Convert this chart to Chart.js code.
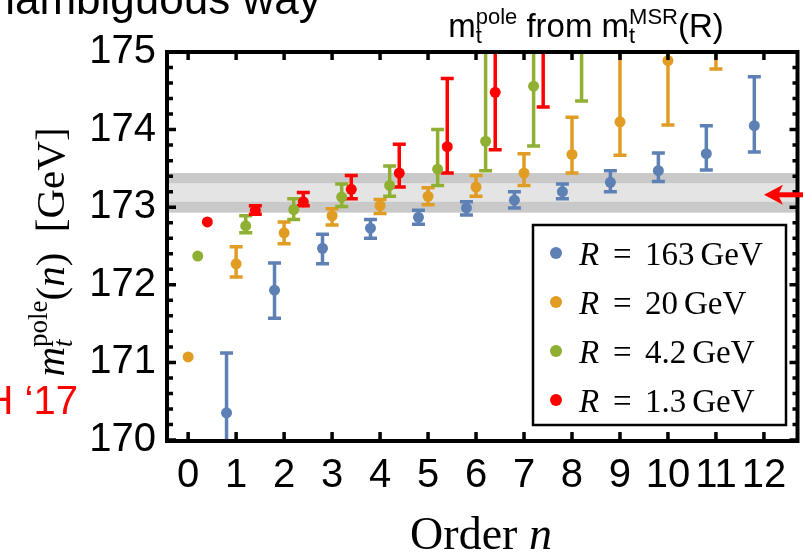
<!DOCTYPE html>
<html>
<head>
<meta charset="utf-8">
<script src="https://cdn.jsdelivr.net/npm/chart.js@4.4.1/dist/chart.umd.min.js"></script>
<style>
  html, body { margin: 0; padding: 0; background: #fff; }
</style>
</head>
<body>
<canvas id="chart" width="803" height="554"></canvas>
<script>
// perturbative order n
const orders = [0, 1, 2, 3, 4, 5, 6, 7, 8, 9, 10, 11, 12];
const yTicks = [170, 171, 172, 173, 174, 175];
const rLabels = ["163", "20", "4.2", "1.3"];

// R = 163 GeV
const mt163 = [null, 170.35, 171.93, 172.47, 172.73, 172.87, 172.99, 173.09, 173.20, 173.32, 173.47, 173.69, 174.05];
const lo163 = [null, 169.60, 171.57, 172.27, 172.60, 172.78, 172.90, 172.99, 173.11, 173.20, 173.33, 173.48, 173.71];
const hi163 = [null, 171.12, 172.28, 172.65, 172.84, 172.96, 173.07, 173.20, 173.30, 173.47, 173.70, 174.05, 174.68];

// R = 20 GeV
const mt20 = [171.07, 172.27, 172.67, 172.89, 173.02, 173.14, 173.26, 173.44, 173.68, 174.10, 174.89, 175.60, null];
const lo20 = [null, 172.10, 172.53, 172.77, 172.92, 173.03, 173.14, 173.28, 173.44, 173.67, 174.06, 174.78, null];
const hi20 = [null, 172.49, 172.81, 172.98, 173.10, 173.25, 173.41, 173.69, 174.16, 175.20, 175.80, 176.50, null];

// R = 4.2 GeV
const mt42 = [172.37, 172.76, 172.97, 173.13, 173.28, 173.49, 173.85, 174.56, 175.50, null, null, null, null];
const lo42 = [null, 172.67, 172.84, 173.01, 173.14, 173.28, 173.47, 173.79, 174.37, null, null, null, null];
const hi42 = [null, 172.89, 173.11, 173.30, 173.53, 174.00, 175.30, 175.80, 176.80, null, null, null, null];

// R = 1.3 GeV
const mt13 = [172.81, 172.96, 173.07, 173.23, 173.44, 173.78, 174.48, 175.40, null, null, null, null, null];
const lo13 = [null, 172.91, 173.02, 173.11, 173.26, 173.44, 173.74, 174.29, null, null, null, null, null];
const hi13 = [null, 173.02, 173.19, 173.41, 173.81, 174.66, 175.50, 176.80, null, null, null, null, null];

// reference band and arrow
const bandOuter = [172.93, 173.44];
const bandInner = [173.07, 173.31];
const arrowValue = 173.16;

const colors = ["#5e81b5", "#e19c24", "#8fb032", "#ff0000"];
const shifts = [-0.2, 0, 0.2, 0.4];

function points(vals, lo, hi, shift) {
  const out = [];
  orders.forEach((n, i) => {
    if (vals[i] == null) return;
    out.push({ x: n + shift, y: vals[i], lo: lo[i], hi: hi[i] });
  });
  return out;
}

const series = [
  [mt163, lo163, hi163],
  [mt20, lo20, hi20],
  [mt42, lo42, hi42],
  [mt13, lo13, hi13]
];

const datasets = series.map((s, i) => ({
  label: "R = " + rLabels[i] + " GeV",
  data: points(s[0], s[1], s[2], shifts[i]),
  backgroundColor: colors[i],
  borderColor: colors[i],
  borderWidth: 0,
  pointRadius: 5.5
}));

const SANS = "'Liberation Sans', Arial, sans-serif";
const SERIF = "'Liberation Serif', 'Times New Roman', serif";

// pieces: [text, font, dy, noAdvance]
function runWidth(ctx, parts) {
  let w = 0;
  parts.forEach(p => { ctx.font = p[1]; if (!p[3]) w += ctx.measureText(p[0]).width; });
  return w;
}
function drawRun(ctx, parts, x, y) {
  let cx = x;
  parts.forEach(p => {
    ctx.font = p[1];
    ctx.fillText(p[0], cx, y + (p[2] || 0));
    if (!p[3]) cx += ctx.measureText(p[0]).width;
  });
}

const decor = {
  id: "decor",
  beforeDatasetsDraw(chart) {
    const { ctx, chartArea: a, scales: { x, y } } = chart;
    ctx.save();
    ctx.beginPath();
    ctx.rect(a.left, a.top, a.right - a.left, a.bottom - a.top);
    ctx.clip();
    // grey band
    const o1 = y.getPixelForValue(bandOuter[1]), o0 = y.getPixelForValue(bandOuter[0]);
    const i1 = y.getPixelForValue(bandInner[1]), i0 = y.getPixelForValue(bandInner[0]);
    ctx.fillStyle = "#c9c9c9";
    ctx.fillRect(a.left, o1, a.right - a.left, o0 - o1);
    ctx.fillStyle = "#e4e4e4";
    ctx.fillRect(a.left, i1, a.right - a.left, i0 - i1);
    // error bars
    chart.data.datasets.forEach(ds => {
      ctx.strokeStyle = ds.backgroundColor;
      ctx.lineWidth = 3.5;
      ds.data.forEach(p => {
        if (p.lo == null) return;
        const px = x.getPixelForValue(p.x);
        const t = y.getPixelForValue(p.hi), b = y.getPixelForValue(p.lo);
        ctx.beginPath();
        ctx.moveTo(px, t); ctx.lineTo(px, b);
        ctx.moveTo(px - 6.5, t); ctx.lineTo(px + 6.5, t);
        ctx.moveTo(px - 6.5, b); ctx.lineTo(px + 6.5, b);
        ctx.stroke();
      });
    });
    ctx.restore();
  },
  afterDraw(chart) {
    const { ctx, chartArea: a, scales: { x, y } } = chart;
    ctx.save();

    // frame
    ctx.strokeStyle = "#000";
    ctx.lineWidth = 4;
    ctx.strokeRect(a.left - 1, a.top, a.right - a.left + 1, a.bottom - a.top + 1);

    // ticks
    ctx.lineWidth = 3.5;
    ctx.beginPath();
    orders.forEach(n => {
      const px = x.getPixelForValue(n);
      ctx.moveTo(px, a.bottom); ctx.lineTo(px, a.bottom - 8);
      ctx.moveTo(px, a.top); ctx.lineTo(px, a.top + 8);
    });
    for (let k = 0; k <= 25; k++) {
      const v = 170 + k * 0.2;
      const py = y.getPixelForValue(v);
      const len = (k % 5 === 0) ? 8 : 5;
      ctx.moveTo(a.left, py); ctx.lineTo(a.left + len, py);
      ctx.moveTo(a.right, py); ctx.lineTo(a.right - len, py);
    }
    ctx.stroke();

    // legend
    const lx = 533, ly = 225, lw = 253, lh = 200;
    ctx.fillStyle = "#fff";
    ctx.fillRect(lx, ly, lw, lh);
    ctx.lineWidth = 2.5;
    ctx.strokeRect(lx, ly, lw, lh);
    chart.data.datasets.forEach((ds, i) => {
      const cy = 253 + i * 49;
      ctx.fillStyle = ds.backgroundColor;
      ctx.beginPath();
      ctx.arc(556, cy, 6, 0, Math.PI * 2);
      ctx.fill();
      ctx.fillStyle = "#000";
      ctx.textBaseline = "alphabetic";
      ctx.textAlign = "left";
      ctx.font = "italic 33px " + SERIF;
      ctx.fillText("R", 579, cy + 12);
      ctx.font = "33px " + SERIF;
      ctx.fillText("=", 613, cy + 12);
      ctx.fillText(rLabels[i], 645, cy + 12);
      const w = ctx.measureText(rLabels[i]).width;
      ctx.fillText("GeV", 645 + w + 6, cy + 12);
    });

    // red arrow
    const ay = y.getPixelForValue(arrowValue);
    ctx.strokeStyle = "#ff0000";
    ctx.fillStyle = "#ff0000";
    ctx.lineWidth = 5;
    ctx.beginPath();
    ctx.moveTo(803, ay); ctx.lineTo(776, ay);
    ctx.stroke();
    ctx.beginPath();
    ctx.moveTo(764, ay);
    ctx.lineTo(783, ay - 10);
    ctx.lineTo(778, ay);
    ctx.lineTo(783, ay + 10);
    ctx.closePath();
    ctx.fill();

    // top title
    ctx.fillStyle = "#000";
    ctx.textAlign = "left";
    ctx.textBaseline = "alphabetic";
    const big = "33px " + SANS, small = "22px " + SANS;
    const tParts = [
      ["m", big, 0], ["t", small, 6, true], ["pole", small, -13],
      [" from ", big, 0],
      ["m", big, 0], ["t", small, 6, true], ["MSR", small, -13],
      ["(R)", big, 0]
    ];
    const tw = runWidth(ctx, tParts);
    drawRun(ctx, tParts, 586 - tw / 2, 37);

    // y-axis title (rotated)
    ctx.save();
    ctx.translate(64, 252);
    ctx.rotate(-Math.PI / 2);
    const yParts = [
      ["m", "italic 41px " + SERIF, 0], ["t", "italic 27px " + SERIF, 8, true],
      ["pole", "27px " + SERIF, -17],
      ["(", "41px " + SERIF, 0], ["n", "italic 41px " + SERIF, 0], [")", "41px " + SERIF, 0],
      ["  [GeV]", "41px " + SERIF, 0]
    ];
    const yw = runWidth(ctx, yParts);
    drawRun(ctx, yParts, -yw / 2, 0);
    ctx.restore();

    // x-axis title
    const xParts = [["Order ", "46px " + SERIF, 0], ["n", "italic 46px " + SERIF, 0]];
    const xw = runWidth(ctx, xParts);
    drawRun(ctx, xParts, 481 - xw / 2, 549);

    // slide remnants
    ctx.font = "44px " + SANS;
    const unW = ctx.measureText("un").width;
    ctx.fillText("unambiguous way", 15 - unW, 14);
    ctx.fillStyle = "#ff0000";
    ctx.font = "40px " + SANS;
    ctx.textAlign = "right";
    ctx.fillText("H \u201817", 78, 414);

    ctx.restore();
  }
};

new Chart(document.getElementById("chart"), {
  type: "scatter",
  data: { datasets: datasets },
  plugins: [decor],
  options: {
    responsive: false,
    animation: false,
    layout: { padding: { top: 52, right: 3, left: 0, bottom: 0 } },
    plugins: { legend: { display: false }, tooltip: { enabled: false } },
    scales: {
      x: {
        type: "linear",
        min: -0.42,
        max: 12.7,
        afterBuildTicks: s => { s.ticks = orders.map(v => ({ value: v })); },
        afterFit: s => { s.height = 114; s.paddingLeft = 0; s.paddingRight = 0; },
        grid: { display: false, drawTicks: false },
        border: { display: false },
        ticks: {
          autoSkip: false, maxRotation: 0, padding: 12, color: "#000",
          font: { family: SANS, size: 40 },
          callback: v => String(v)
        }
      },
      y: {
        type: "linear",
        min: 170,
        max: 175,
        afterBuildTicks: s => { s.ticks = yTicks.map(v => ({ value: v })); },
        afterFit: s => { s.width = 168; s.paddingTop = 0; s.paddingBottom = 0; },
        grid: { display: false, drawTicks: false },
        border: { display: false },
        ticks: {
          padding: 12, color: "#000",
          font: { family: SANS, size: 40 },
          callback: v => String(v)
        }
      }
    }
  }
});
</script>
</body>
</html>
